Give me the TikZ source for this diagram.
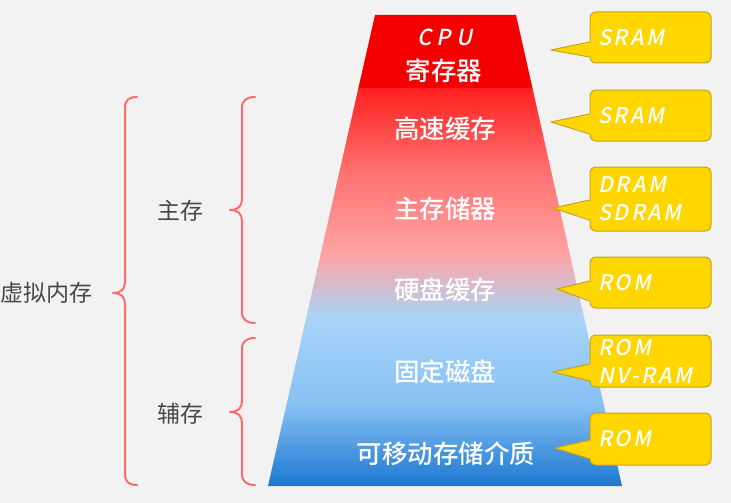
\documentclass[tikz,border=0pt]{standalone}
\usepackage{fontspec}
\setmainfont{Noto Sans CJK SC}
\newfontfamily\cjk{Noto Sans CJK SC}
\newfontfamily\cjkmed[UprightFont={* Medium}]{Noto Sans CJK SC}
\newfontfamily\latit[UprightFont={* Medium},FakeSlant=0.2,LetterSpace=12]{Noto Sans CJK SC}
\newfontfamily\latcpu[UprightFont={* Medium},FakeSlant=0.2,LetterSpace=22]{Noto Sans CJK SC}
\usetikzlibrary{calc}
\definecolor{bg}{RGB}{242,242,242}
\definecolor{callfill}{RGB}{255,214,0}
\definecolor{calledge}{RGB}{196,166,20}
\definecolor{bracered}{RGB}{255,107,107}
\definecolor{sidegray}{RGB}{72,72,72}
\definecolor{topred}{RGB}{245,0,0}
\definecolor{gA}{RGB}{255,32,32}
\definecolor{gB}{RGB}{255,112,112}
\definecolor{gC}{RGB}{255,165,165}
\definecolor{gD}{RGB}{168,212,248}
\definecolor{gE}{RGB}{135,192,243}
\definecolor{gF}{RGB}{22,116,208}
\begin{document}
\begin{tikzpicture}[x=1pt,y=-1pt,
  callbox/.style={draw=calledge, fill=callfill, rounded corners=6pt, line width=1pt,
    minimum width=121pt, text width=105pt, inner xsep=8pt, inner ysep=0pt, align=left,
    font=\latit\fontsize{21.5}{28}\selectfont, text=white},
  pointerfill/.style={fill=callfill},
  pointeredge/.style={draw=calledge, line width=1pt, line join=round},
  layertext/.style={text=white, inner sep=0pt, font=\cjkmed\fontsize{25.5}{30}\selectfont},
  cputext/.style={text=white, inner sep=0pt, font=\latcpu\fontsize{22}{28}\selectfont},
  sidetext/.style={text=sidegray, inner sep=0pt, font=\cjk\fontsize{23}{28}\selectfont},
  bracestyle/.style={draw=bracered, line width=2pt, line cap=round, line join=round}
]
\useasboundingbox (0,0) rectangle (731,503);
\fill[bg] (0,0) rectangle (731,503);

% pyramid
\begin{scope}
\clip (375,15) -- (516,15) -- (622,486) -- (268,486) -- cycle;
\fill[topred] (260,10) rectangle (630,88.5);
\shade[top color=gA, bottom color=gB] (260,88) rectangle (630,170.5);
\shade[top color=gB, bottom color=gC] (260,170) rectangle (630,255.5);
\shade[top color=gC, bottom color=gD] (260,255) rectangle (630,318.5);
\shade[top color=gD, bottom color=gE] (260,318) rectangle (630,405.5);
\shade[top color=gE, bottom color=gF] (260,405) rectangle (630,490);
\end{scope}

\node[cputext] (cpu) at (445,37) {CPU};
\node[layertext] (reg) at (444,71) {寄存器};
\node[layertext] (cache) at (445,128.5) {高速缓存};
\node[layertext] (mainmem) at (445,209) {主存储器};
\node[layertext] (diskcache) at (445,290) {硬盘缓存};
\node[layertext] (fixdisk) at (445,371.5) {固定磁盘};
\node[layertext] (removable) at (446,453.5) {可移动存储介质};

% callouts
\node[callbox, minimum height=51pt] (b1) at (650.5,37.5) {SRAM};
\coordinate (t1) at (551,50);
\fill[pointerfill] (t1) -- ($(b1.west)+(3,4.5)$) -- ($(b1.west)+(3,19.5)$) -- cycle;
\draw[pointeredge] ($(b1.west)+(0,4.5)$) -- (t1) -- ($(b1.west)+(0,19.5)$);

\node[callbox, minimum height=51pt] (b2) at (650.5,115.5) {SRAM};
\coordinate (t2) at (551,122);
\fill[pointerfill] (t2) -- ($(b2.west)+(3,-1.5)$) -- ($(b2.west)+(3,18.5)$) -- cycle;
\draw[pointeredge] ($(b2.west)+(0,-1.5)$) -- (t2) -- ($(b2.west)+(0,18.5)$);

\node[callbox, minimum height=64pt] (b3) at (650.5,199) {DRAM\\SDRAM};
\coordinate (t3) at (553,208);
\fill[pointerfill] (t3) -- ($(b3.west)+(3,1)$) -- ($(b3.west)+(3,21)$) -- cycle;
\draw[pointeredge] ($(b3.west)+(0,1)$) -- (t3) -- ($(b3.west)+(0,21)$);

\node[callbox, minimum height=51pt] (b4) at (650.5,282.5) {ROM};
\coordinate (t4) at (557,289);
\fill[pointerfill] (t4) -- ($(b4.west)+(3,-1.5)$) -- ($(b4.west)+(3,18.5)$) -- cycle;
\draw[pointeredge] ($(b4.west)+(0,-1.5)$) -- (t4) -- ($(b4.west)+(0,18.5)$);

\node[callbox, minimum height=52pt] (b5) at (650.5,361) {ROM\\NV-RAM};
\coordinate (t5) at (553,372);
\fill[pointerfill] (t5) -- ($(b5.west)+(3,3)$) -- ($(b5.west)+(3,20)$) -- cycle;
\draw[pointeredge] ($(b5.west)+(0,3)$) -- (t5) -- ($(b5.west)+(0,20)$);

\node[callbox, minimum height=52pt] (b6) at (650.5,439) {ROM};
\coordinate (t6) at (555,448);
\fill[pointerfill] (t6) -- ($(b6.west)+(3,1)$) -- ($(b6.west)+(3,20)$) -- cycle;
\draw[pointeredge] ($(b6.west)+(0,1)$) -- (t6) -- ($(b6.west)+(0,20)$);

% side labels
\node[sidetext] (xuni) at (46.5,293) {虚拟内存};
\node[sidetext] (zhucun) at (180,211) {主存};
\node[sidetext] (fucun) at (180,414) {辅存};

% braces
\draw[bracestyle] (137,97) .. controls (129,97) and (125,100) .. (125,108)
  -- (125,282) .. controls (125,289) and (121,293) .. (113,293)
  .. controls (121,293) and (125,297) .. (125,304)
  -- (125,474) .. controls (125,482) and (129,485) .. (137,485);
\draw[bracestyle] (255,97) .. controls (247,97) and (242,100) .. (242,108)
  -- (242,199) .. controls (242,206) and (238,210) .. (230,210)
  .. controls (238,210) and (242,214) .. (242,221)
  -- (242,312) .. controls (242,320) and (247,323) .. (255,323);
\draw[bracestyle] (255,338) .. controls (247,338) and (242,341) .. (242,349)
  -- (242,401) .. controls (242,408) and (238,412) .. (230,412)
  .. controls (238,412) and (242,416) .. (242,423)
  -- (242,474) .. controls (242,482) and (247,485) .. (255,485);
\end{tikzpicture}
\end{document}
